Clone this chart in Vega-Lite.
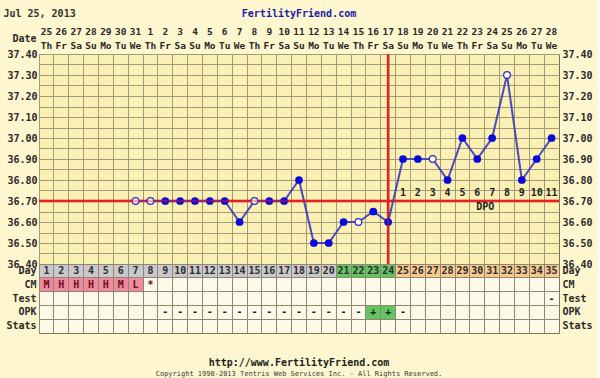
{
  "$schema": "https://vega.github.io/schema/vega-lite/v6.json",
  "background": "#FDF6CE",
  "padding": {"left": 3, "top": 3, "right": 5, "bottom": 0},
  "spacing": 0,
  "bounds": "flush",
  "resolve": {"scale": {"x": "independent", "y": "independent"}},
  "datasets": {
    "days": [
      {"cd": 1, "date": "25", "wd": "Th", "temp": null, "hollow": false, "dpo": null, "cm": "M", "opk": null, "test": null, "phase": "infertile"},
      {"cd": 2, "date": "26", "wd": "Fr", "temp": null, "hollow": false, "dpo": null, "cm": "H", "opk": null, "test": null, "phase": "infertile"},
      {"cd": 3, "date": "27", "wd": "Sa", "temp": null, "hollow": false, "dpo": null, "cm": "H", "opk": null, "test": null, "phase": "infertile"},
      {"cd": 4, "date": "28", "wd": "Su", "temp": null, "hollow": false, "dpo": null, "cm": "H", "opk": null, "test": null, "phase": "infertile"},
      {"cd": 5, "date": "29", "wd": "Mo", "temp": null, "hollow": false, "dpo": null, "cm": "H", "opk": null, "test": null, "phase": "infertile"},
      {"cd": 6, "date": "30", "wd": "Tu", "temp": null, "hollow": false, "dpo": null, "cm": "M", "opk": null, "test": null, "phase": "infertile"},
      {"cd": 7, "date": "31", "wd": "We", "temp": 36.70, "hollow": true, "dpo": null, "cm": "L", "opk": null, "test": null, "phase": "infertile"},
      {"cd": 8, "date": "1", "wd": "Th", "temp": 36.70, "hollow": true, "dpo": null, "cm": "*", "opk": null, "test": null, "phase": "infertile"},
      {"cd": 9, "date": "2", "wd": "Fr", "temp": 36.70, "hollow": false, "dpo": null, "cm": null, "opk": "-", "test": null, "phase": "infertile"},
      {"cd": 10, "date": "3", "wd": "Sa", "temp": 36.70, "hollow": false, "dpo": null, "cm": null, "opk": "-", "test": null, "phase": "infertile"},
      {"cd": 11, "date": "4", "wd": "Su", "temp": 36.70, "hollow": false, "dpo": null, "cm": null, "opk": "-", "test": null, "phase": "infertile"},
      {"cd": 12, "date": "5", "wd": "Mo", "temp": 36.70, "hollow": false, "dpo": null, "cm": null, "opk": "-", "test": null, "phase": "infertile"},
      {"cd": 13, "date": "6", "wd": "Tu", "temp": 36.70, "hollow": false, "dpo": null, "cm": null, "opk": "-", "test": null, "phase": "infertile"},
      {"cd": 14, "date": "7", "wd": "We", "temp": 36.60, "hollow": false, "dpo": null, "cm": null, "opk": "-", "test": null, "phase": "infertile"},
      {"cd": 15, "date": "8", "wd": "Th", "temp": 36.70, "hollow": true, "dpo": null, "cm": null, "opk": "-", "test": null, "phase": "infertile"},
      {"cd": 16, "date": "9", "wd": "Fr", "temp": 36.70, "hollow": false, "dpo": null, "cm": null, "opk": "-", "test": null, "phase": "infertile"},
      {"cd": 17, "date": "10", "wd": "Sa", "temp": 36.70, "hollow": false, "dpo": null, "cm": null, "opk": "-", "test": null, "phase": "infertile"},
      {"cd": 18, "date": "11", "wd": "Su", "temp": 36.80, "hollow": false, "dpo": null, "cm": null, "opk": "-", "test": null, "phase": "infertile"},
      {"cd": 19, "date": "12", "wd": "Mo", "temp": 36.50, "hollow": false, "dpo": null, "cm": null, "opk": "-", "test": null, "phase": "infertile"},
      {"cd": 20, "date": "13", "wd": "Tu", "temp": 36.50, "hollow": false, "dpo": null, "cm": null, "opk": "-", "test": null, "phase": "infertile"},
      {"cd": 21, "date": "14", "wd": "We", "temp": 36.60, "hollow": false, "dpo": null, "cm": null, "opk": "-", "test": null, "phase": "fertile"},
      {"cd": 22, "date": "15", "wd": "Th", "temp": 36.60, "hollow": true, "dpo": null, "cm": null, "opk": "-", "test": null, "phase": "fertile"},
      {"cd": 23, "date": "16", "wd": "Fr", "temp": 36.65, "hollow": false, "dpo": null, "cm": null, "opk": "+", "test": null, "phase": "fertile"},
      {"cd": 24, "date": "17", "wd": "Sa", "temp": 36.60, "hollow": false, "dpo": null, "cm": null, "opk": "+", "test": null, "phase": "fertile"},
      {"cd": 25, "date": "18", "wd": "Su", "temp": 36.90, "hollow": false, "dpo": 1, "cm": null, "opk": "-", "test": null, "phase": "luteal"},
      {"cd": 26, "date": "19", "wd": "Mo", "temp": 36.90, "hollow": false, "dpo": 2, "cm": null, "opk": null, "test": null, "phase": "luteal"},
      {"cd": 27, "date": "20", "wd": "Tu", "temp": 36.90, "hollow": true, "dpo": 3, "cm": null, "opk": null, "test": null, "phase": "luteal"},
      {"cd": 28, "date": "21", "wd": "We", "temp": 36.80, "hollow": false, "dpo": 4, "cm": null, "opk": null, "test": null, "phase": "luteal"},
      {"cd": 29, "date": "22", "wd": "Th", "temp": 37.00, "hollow": false, "dpo": 5, "cm": null, "opk": null, "test": null, "phase": "luteal"},
      {"cd": 30, "date": "23", "wd": "Fr", "temp": 36.90, "hollow": false, "dpo": 6, "cm": null, "opk": null, "test": null, "phase": "luteal"},
      {"cd": 31, "date": "24", "wd": "Sa", "temp": 37.00, "hollow": false, "dpo": 7, "cm": null, "opk": null, "test": null, "phase": "luteal"},
      {"cd": 32, "date": "25", "wd": "Su", "temp": 37.30, "hollow": true, "dpo": 8, "cm": null, "opk": null, "test": null, "phase": "luteal"},
      {"cd": 33, "date": "26", "wd": "Mo", "temp": 36.80, "hollow": false, "dpo": 9, "cm": null, "opk": null, "test": null, "phase": "luteal"},
      {"cd": 34, "date": "27", "wd": "Tu", "temp": 36.90, "hollow": false, "dpo": 10, "cm": null, "opk": null, "test": null, "phase": "luteal"},
      {"cd": 35, "date": "28", "wd": "We", "temp": 37.00, "hollow": false, "dpo": 11, "cm": null, "opk": null, "test": "-", "phase": "luteal"}
    ]
  },
  "vconcat": [
    {
      "width": 520,
      "height": 46,
      "view": {"stroke": null},
      "layer": [
        {
          "data": {"values": [{"chart_date": "Jul 25, 2013", "site": "FertilityFriend.com"}]},
          "mark": {"type": "text", "font": "DejaVu Sans Mono", "fontSize": 10, "fontWeight": "bold", "color": "#333333", "align": "left", "dx": -43, "dy": -2},
          "encoding": {
            "x": {"datum": 1, "type": "ordinal", "scale": {"type": "band", "domain": [1,2,3,4,5,6,7,8,9,10,11,12,13,14,15,16,17,18,19,20,21,22,23,24,25,26,27,28,29,30,31,32,33,34,35], "paddingInner": 0, "paddingOuter": 0}, "axis": null},
            "y": {"datum": "site", "type": "nominal", "scale": {"type": "band", "domain": ["site", "num", "wd"], "paddingInner": 0, "paddingOuter": 0}, "axis": {"title": null, "labelExpr": "datum.value == 'wd' ? 'Date' : ''", "labelOffset": -7, "ticks": false, "domain": false, "grid": false, "labelFont": "DejaVu Sans Mono", "labelFontSize": 10, "labelFontWeight": "bold", "labelColor": "#2A2A2A", "labelPadding": 3}},
            "text": {"field": "chart_date", "type": "nominal"}
          }
        },
        {
          "data": {"values": [{"chart_date": "Jul 25, 2013", "site": "FertilityFriend.com"}]},
          "mark": {"type": "text", "font": "DejaVu Sans Mono", "fontSize": 10, "fontWeight": "bold", "color": "#1A1AA8", "dy": -2},
          "encoding": {
            "x": {"datum": 18, "type": "ordinal", "axis": null},
            "y": {"datum": "site", "type": "nominal", "axis": {"title": null, "labelExpr": "datum.value == 'wd' ? 'Date' : ''", "labelOffset": -7, "ticks": false, "domain": false, "grid": false, "labelFont": "DejaVu Sans Mono", "labelFontSize": 10, "labelFontWeight": "bold", "labelColor": "#2A2A2A", "labelPadding": 3}},
            "text": {"field": "site", "type": "nominal"}
          }
        },
        {
          "data": {"name": "days"},
          "mark": {"type": "text", "font": "DejaVu Sans Mono", "fontSize": 9.5, "fontWeight": "bold", "color": "#2A2A2A", "dy": 1},
          "encoding": {
            "x": {"field": "cd", "type": "ordinal", "axis": null},
            "y": {"datum": "num", "type": "nominal", "axis": {"title": null, "labelExpr": "datum.value == 'wd' ? 'Date' : ''", "labelOffset": -7, "ticks": false, "domain": false, "grid": false, "labelFont": "DejaVu Sans Mono", "labelFontSize": 10, "labelFontWeight": "bold", "labelColor": "#2A2A2A", "labelPadding": 3}},
            "text": {"field": "date", "type": "nominal"}
          }
        },
        {
          "data": {"name": "days"},
          "mark": {"type": "text", "font": "DejaVu Sans Mono", "fontSize": 9.5, "fontWeight": "bold", "color": "#2A2A2A"},
          "encoding": {
            "x": {"field": "cd", "type": "ordinal", "axis": null},
            "y": {"datum": "wd", "type": "nominal", "axis": {"title": null, "labelExpr": "datum.value == 'wd' ? 'Date' : ''", "labelOffset": -7, "ticks": false, "domain": false, "grid": false, "labelFont": "DejaVu Sans Mono", "labelFontSize": 10, "labelFontWeight": "bold", "labelColor": "#2A2A2A", "labelPadding": 3}},
            "text": {"field": "wd", "type": "nominal"}
          }
        }
      ]
    },
    {
      "width": 520,
      "height": 210,
      "data": {"name": "days"},
      "view": {"fill": "#FAF0B3", "stroke": "#7D7560", "strokeWidth": 1},
      "resolve": {"axis": {"y": "independent"}},
      "layer": [
        {
          "data": {"values": [{"coverline": 36.7}]},
          "mark": {"type": "rule", "color": "#E02424", "strokeWidth": 2.5},
          "encoding": {
            "y": {"field": "coverline", "type": "quantitative", "scale": {"domain": [36.4, 37.4], "nice": false, "zero": false}, "axis": {"orient": "left", "title": null, "tickCount": 20, "grid": true, "gridColor": "#A39A7C", "gridOpacity": 1, "labelOverlap": false, "labelExpr": "round(datum.value*100) % 10 == 0 ? format(datum.value, '.2f') : ''", "ticks": false, "domain": false, "labelFont": "DejaVu Sans Mono", "labelFontSize": 10, "labelFontWeight": "bold", "labelColor": "#2A2A2A", "labelPadding": 2}}
          }
        },
        {
          "data": {"values": [{"ovulation_cd": 24}]},
          "mark": {"type": "rule", "color": "#E02424", "strokeWidth": 2.5},
          "encoding": {
            "x": {"field": "ovulation_cd", "type": "ordinal", "scale": {"type": "band", "domain": [1,2,3,4,5,6,7,8,9,10,11,12,13,14,15,16,17,18,19,20,21,22,23,24,25,26,27,28,29,30,31,32,33,34,35], "paddingInner": 0, "paddingOuter": 0}, "axis": {"title": null, "labels": false, "ticks": false, "domain": false, "grid": true, "bandPosition": 0, "gridColor": "#A39A7C", "gridOpacity": 1}}
          }
        },
        {
          "mark": {"type": "line", "color": "#3A3AB8", "strokeWidth": 2, "opacity": 0.9},
          "encoding": {
            "x": {"field": "cd", "type": "ordinal", "axis": {"title": null, "labels": false, "ticks": false, "domain": false, "grid": true, "bandPosition": 0, "gridColor": "#A39A7C", "gridOpacity": 1}},
            "y": {"field": "temp", "type": "quantitative", "scale": {"domain": [36.4, 37.4], "nice": false, "zero": false}, "axis": {"orient": "right", "title": null, "tickCount": 20, "grid": false, "labelOverlap": false, "labelExpr": "round(datum.value*100) % 10 == 0 ? format(datum.value, '.2f') : ''", "ticks": false, "domain": false, "labelFont": "DejaVu Sans Mono", "labelFontSize": 10, "labelFontWeight": "bold", "labelColor": "#2A2A2A", "labelPadding": 3}}
          }
        },
        {
          "transform": [{"filter": "isValid(datum.temp) && !datum.hollow"}],
          "mark": {"type": "point", "shape": "circle", "filled": true, "size": 60, "color": "#0A0ADC", "opacity": 1, "strokeWidth": 0},
          "encoding": {
            "x": {"field": "cd", "type": "ordinal", "axis": {"title": null, "labels": false, "ticks": false, "domain": false, "grid": true, "bandPosition": 0, "gridColor": "#A39A7C", "gridOpacity": 1}},
            "y": {"field": "temp", "type": "quantitative", "axis": null}
          }
        },
        {
          "transform": [{"filter": "isValid(datum.temp) && datum.hollow"}],
          "mark": {"type": "point", "shape": "circle", "filled": false, "size": 45, "fill": "#FFFFFF", "fillOpacity": 1, "stroke": "#2A2AC8", "strokeWidth": 1.2, "opacity": 1},
          "encoding": {
            "x": {"field": "cd", "type": "ordinal", "axis": {"title": null, "labels": false, "ticks": false, "domain": false, "grid": true, "bandPosition": 0, "gridColor": "#A39A7C", "gridOpacity": 1}},
            "y": {"field": "temp", "type": "quantitative", "axis": null}
          }
        },
        {
          "data": {"values": [{"coverline": 36.7}]},
          "mark": {"type": "rule", "color": "#E02424", "strokeWidth": 2.5, "opacity": 0.4},
          "encoding": {
            "y": {"field": "coverline", "type": "quantitative", "axis": null}
          }
        },
        {
          "data": {"values": [{"ovulation_cd": 24}]},
          "mark": {"type": "rule", "color": "#E02424", "strokeWidth": 2.5, "opacity": 0.4},
          "encoding": {
            "x": {"field": "ovulation_cd", "type": "ordinal", "axis": {"title": null, "labels": false, "ticks": false, "domain": false, "grid": true, "bandPosition": 0, "gridColor": "#A39A7C", "gridOpacity": 1}}
          }
        },
        {
          "transform": [{"filter": "isValid(datum.dpo)"}],
          "mark": {"type": "text", "font": "DejaVu Sans Mono", "fontSize": 10, "fontWeight": "bold", "color": "#1E1E1E"},
          "encoding": {
            "x": {"field": "cd", "type": "ordinal", "axis": {"title": null, "labels": false, "ticks": false, "domain": false, "grid": true, "bandPosition": 0, "gridColor": "#A39A7C", "gridOpacity": 1}},
            "y": {"datum": 36.74, "type": "quantitative", "axis": null},
            "text": {"field": "dpo", "type": "nominal"}
          }
        },
        {
          "data": {"values": [{"label": "DPO", "cd": 30}]},
          "mark": {"type": "text", "font": "DejaVu Sans Mono", "fontSize": 10, "fontWeight": "bold", "color": "#1E1E1E", "dx": 8},
          "encoding": {
            "x": {"field": "cd", "type": "ordinal", "axis": {"title": null, "labels": false, "ticks": false, "domain": false, "grid": true, "bandPosition": 0, "gridColor": "#A39A7C", "gridOpacity": 1}},
            "y": {"datum": 36.672, "type": "quantitative", "axis": null},
            "text": {"field": "label", "type": "nominal"}
          }
        }
      ]
    },
    {
      "width": 520,
      "height": 69,
      "data": {"name": "days"},
      "view": {"fill": "#FDF9E8", "stroke": "#7D7560", "strokeWidth": 1},
      "resolve": {"axis": {"y": "independent"}},
      "title": {"text": "http://www.FertilityFriend.com", "subtitle": "Copyright 1998-2013 Tentris Web Services Inc. - All Rights Reserved.", "orient": "bottom", "anchor": "middle", "offset": 25, "font": "DejaVu Sans Mono", "fontSize": 10, "fontWeight": "bold", "color": "#1E1E1E", "subtitleFont": "DejaVu Sans Mono", "subtitleFontSize": 7, "subtitleColor": "#3A3A3A", "subtitlePadding": 2},
      "layer": [
        {
          "mark": {"type": "rect"},
          "encoding": {
            "x": {"field": "cd", "type": "ordinal", "scale": {"type": "band", "domain": [1,2,3,4,5,6,7,8,9,10,11,12,13,14,15,16,17,18,19,20,21,22,23,24,25,26,27,28,29,30,31,32,33,34,35], "paddingInner": 0, "paddingOuter": 0}, "axis": {"title": null, "labels": false, "ticks": false, "domain": false, "grid": true, "bandPosition": 0, "gridColor": "#8F8770", "gridOpacity": 1, "zindex": 1}},
            "y": {"datum": "Day", "type": "nominal", "scale": {"type": "band", "domain": ["Day", "CM", "Test", "OPK", "Stats"], "paddingInner": 0, "paddingOuter": 0}, "axis": {"orient": "left", "title": null, "ticks": false, "domain": false, "grid": true, "bandPosition": 0, "gridColor": "#8F8770", "gridOpacity": 1, "zindex": 1, "labelFont": "DejaVu Sans Mono", "labelFontSize": 10, "labelFontWeight": "bold", "labelColor": "#2A2A2A", "labelPadding": 3}},
            "fill": {"field": "phase", "type": "nominal", "scale": {"domain": ["infertile", "fertile", "luteal"], "range": ["#C9C8CC", "#62C462", "#F8C98F"]}, "legend": null}
          }
        },
        {
          "transform": [{"filter": "indexof(['M','H','L'], datum.cm) >= 0"}],
          "mark": {"type": "rect", "color": "#EF8AA0"},
          "encoding": {
            "x": {"field": "cd", "type": "ordinal", "axis": {"title": null, "labels": false, "ticks": false, "domain": false, "grid": true, "bandPosition": 0, "gridColor": "#8F8770", "gridOpacity": 1, "zindex": 1}},
            "y": {"datum": "CM", "type": "nominal", "axis": null}
          }
        },
        {
          "transform": [{"filter": "datum.opk == '+'"}],
          "mark": {"type": "rect", "color": "#62C462"},
          "encoding": {
            "x": {"field": "cd", "type": "ordinal", "axis": {"title": null, "labels": false, "ticks": false, "domain": false, "grid": true, "bandPosition": 0, "gridColor": "#8F8770", "gridOpacity": 1, "zindex": 1}},
            "y": {"datum": "OPK", "type": "nominal", "axis": null}
          }
        },
        {
          "mark": {"type": "text", "font": "DejaVu Sans Mono", "fontSize": 10, "fontWeight": "bold", "color": "#2E2E2E"},
          "encoding": {
            "x": {"field": "cd", "type": "ordinal", "axis": {"title": null, "labels": false, "ticks": false, "domain": false, "grid": true, "bandPosition": 0, "gridColor": "#8F8770", "gridOpacity": 1, "zindex": 1}},
            "y": {"datum": "Day", "type": "nominal", "axis": {"orient": "right", "title": null, "ticks": false, "domain": false, "grid": false, "labelFont": "DejaVu Sans Mono", "labelFontSize": 10, "labelFontWeight": "bold", "labelColor": "#2A2A2A", "labelPadding": 3}},
            "text": {"field": "cd", "type": "nominal"}
          }
        },
        {
          "transform": [{"filter": "isValid(datum.cm)"}],
          "mark": {"type": "text", "font": "DejaVu Sans Mono", "fontSize": 10, "fontWeight": "bold", "color": "#6A0E1C"},
          "encoding": {
            "x": {"field": "cd", "type": "ordinal", "axis": {"title": null, "labels": false, "ticks": false, "domain": false, "grid": true, "bandPosition": 0, "gridColor": "#8F8770", "gridOpacity": 1, "zindex": 1}},
            "y": {"datum": "CM", "type": "nominal", "axis": null},
            "text": {"field": "cm", "type": "nominal"}
          }
        },
        {
          "transform": [{"filter": "isValid(datum.test)"}],
          "mark": {"type": "text", "font": "DejaVu Sans Mono", "fontSize": 10, "fontWeight": "bold", "color": "#1E1E1E"},
          "encoding": {
            "x": {"field": "cd", "type": "ordinal", "axis": {"title": null, "labels": false, "ticks": false, "domain": false, "grid": true, "bandPosition": 0, "gridColor": "#8F8770", "gridOpacity": 1, "zindex": 1}},
            "y": {"datum": "Test", "type": "nominal", "axis": null},
            "text": {"field": "test", "type": "nominal"}
          }
        },
        {
          "transform": [{"filter": "isValid(datum.opk)"}],
          "mark": {"type": "text", "font": "DejaVu Sans Mono", "fontSize": 10, "fontWeight": "bold", "color": "#1E1E1E"},
          "encoding": {
            "x": {"field": "cd", "type": "ordinal", "axis": {"title": null, "labels": false, "ticks": false, "domain": false, "grid": true, "bandPosition": 0, "gridColor": "#8F8770", "gridOpacity": 1, "zindex": 1}},
            "y": {"datum": "OPK", "type": "nominal", "axis": null},
            "text": {"field": "opk", "type": "nominal"}
          }
        }
      ]
    }
  ]
}
